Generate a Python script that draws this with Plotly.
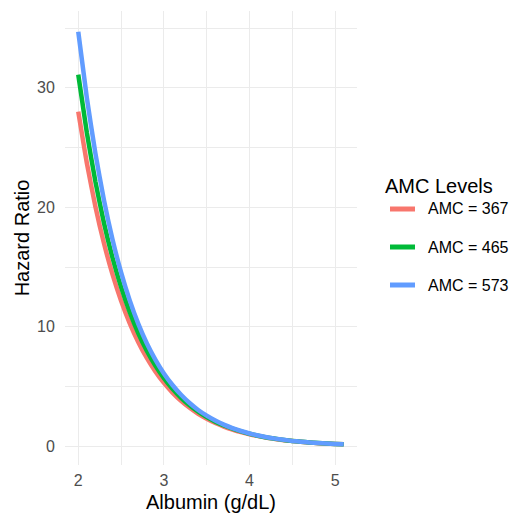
import plotly.graph_objects as go

albumin = [2.0, 2.1, 2.2, 2.3, 2.4, 2.5, 2.6, 2.7, 2.8, 2.9,
           3.0, 3.1, 3.2, 3.3, 3.4, 3.5, 3.6, 3.7, 3.8, 3.9,
           4.0, 4.1, 4.2, 4.3, 4.4, 4.5, 4.6, 4.7, 4.8, 4.9,
           5.0, 5.1]

hr_amc_367 = [28.0, 23.71, 20.07, 16.99, 14.39, 12.18, 10.31, 8.73, 7.39, 6.26,
              5.30, 4.49, 3.80, 3.22, 2.72, 2.31, 1.95, 1.65, 1.40, 1.18,
              1.00, 0.85, 0.72, 0.61, 0.51, 0.44, 0.37, 0.31, 0.26, 0.22,
              0.19, 0.16]

hr_amc_465 = [31.1, 26.25, 22.15, 18.69, 15.78, 13.32, 11.24, 9.48, 8.00, 6.75,
              5.70, 4.81, 4.06, 3.43, 2.89, 2.44, 2.06, 1.74, 1.47, 1.24,
              1.045, 0.88, 0.74, 0.63, 0.53, 0.45, 0.38, 0.32, 0.27, 0.23,
              0.19, 0.16]

hr_amc_573 = [34.7, 29.16, 24.51, 20.60, 17.31, 14.55, 12.23, 10.27, 8.63, 7.26,
              6.10, 5.13, 4.31, 3.62, 3.04, 2.56, 2.15, 1.81, 1.52, 1.28,
              1.07, 0.90, 0.76, 0.64, 0.54, 0.45, 0.38, 0.32, 0.27, 0.23,
              0.19, 0.16]

series_names = ["AMC = 367", "AMC = 465", "AMC = 573"]
series_values = [hr_amc_367, hr_amc_465, hr_amc_573]
series_colors = ["#F8766D", "#00BA38", "#619CFF"]
legend_title = "AMC Levels"

x_ticks = [2, 3, 4, 5]
y_ticks = [0, 10, 20, 30]

# figure geometry (page body margin is removed so the figure fills the window)
FIG_W, FIG_H = 510, 513
M_L, M_R, M_T, M_B = 65, 153, 11, 48
PW = FIG_W - M_L - M_R
PH = FIG_H - M_T - M_B


def px_x(fx):
    return (fx - M_L) / PW


def px_y(fy):
    return (FIG_H - M_B - fy) / PH


fig = go.Figure()
for name, vals, col in zip(series_names, series_values, series_colors):
    fig.add_trace(go.Scatter(
        x=albumin, y=vals, mode="lines", name=name, showlegend=False,
        line=dict(color=col, width=4.5, shape="spline", smoothing=0.5),
    ))

# hand-built legend (ggplot style) in the right margin
LEG_TITLE_X, LEG_TITLE_Y = 383, 186
KEY_X0, KEY_X1, LABEL_X = 390, 415, 426
ROW_Y0, ROW_STEP = 209, 38

annotations = [dict(
    text=legend_title, xref="paper", yref="paper",
    x=px_x(LEG_TITLE_X), y=px_y(LEG_TITLE_Y), xanchor="left", yanchor="middle",
    showarrow=False, font=dict(size=20, color="black"),
)]
shapes = []
for i, (name, col) in enumerate(zip(series_names, series_colors)):
    ry = ROW_Y0 + i * ROW_STEP
    shapes.append(dict(
        type="line", xref="paper", yref="paper",
        x0=px_x(KEY_X0), x1=px_x(KEY_X1), y0=px_y(ry), y1=px_y(ry),
        line=dict(color=col, width=5),
    ))
    annotations.append(dict(
        text=name, xref="paper", yref="paper",
        x=px_x(LABEL_X), y=px_y(ry), xanchor="left", yanchor="middle",
        showarrow=False, font=dict(size=16, color="black"),
    ))

grid = "#EBEBEB"
font = "Liberation Sans, Arial, sans-serif"

fig.update_layout(
    width=FIG_W, height=FIG_H,
    margin=dict(l=M_L, r=M_R, t=M_T, b=M_B),
    paper_bgcolor="white", plot_bgcolor="white",
    font=dict(family=font, color="black"),
    showlegend=False,
    annotations=annotations,
    shapes=shapes,
    xaxis=dict(
        range=[1.845, 5.255], tickvals=x_ticks, ticktext=[str(v) for v in x_ticks],
        automargin=False,
        showgrid=True, gridcolor=grid, gridwidth=1.1, zeroline=False, showline=False,
        ticks="outside", ticklen=1, tickcolor="rgba(0,0,0,0)",
        tickfont=dict(size=16, color="#4D4D4D"),
        minor=dict(tickvals=[2.5, 3.5, 4.5], showgrid=True, gridcolor=grid, gridwidth=0.7, ticks=""),
        title=dict(text="Albumin (g/dL)", font=dict(size=20, color="black"), standoff=6),
    ),
    yaxis=dict(
        range=[-1.567, 36.43], tickvals=y_ticks, ticktext=[str(v) for v in y_ticks],
        automargin=False,
        showgrid=True, gridcolor=grid, gridwidth=1.1, zeroline=False, showline=False,
        ticks="outside", ticklen=6, tickcolor="rgba(0,0,0,0)",
        tickfont=dict(size=16, color="#4D4D4D"),
        minor=dict(tickvals=[5, 15, 25, 35], showgrid=True, gridcolor=grid, gridwidth=0.7, ticks=""),
        title=dict(text="Hazard Ratio", font=dict(size=20, color="black"), standoff=2),
    ),
)

fig.write_html(
    "out.html",
    config={"displayModeBar": False},
    post_script="document.body.style.margin='0';document.body.style.overflow='hidden';",
)
